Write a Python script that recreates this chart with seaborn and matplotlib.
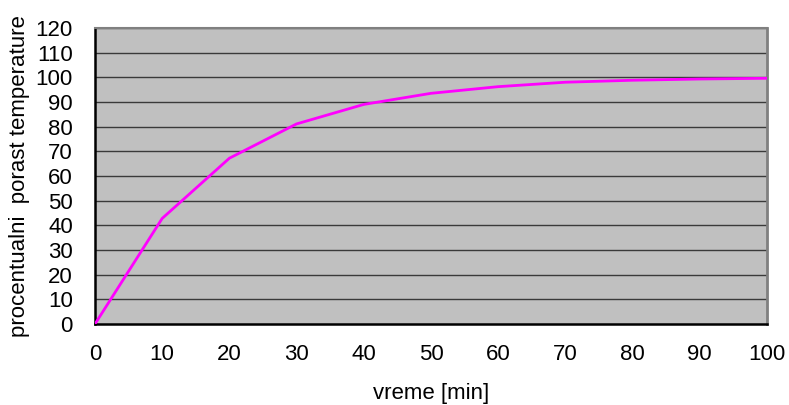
import matplotlib
matplotlib.use("Agg")
import matplotlib.pyplot as plt
import seaborn as sns
import pandas as pd

# time [min] and percent temperature rise
time_min = [0, 10, 20, 30, 40, 50, 60, 70, 80, 90, 100]
percent_rise = [0, 42.8, 67.2, 81.1, 89.0, 93.5, 96.2, 98.0, 98.8, 99.3, 99.6]
x_ticks = list(range(0, 101, 10))
y_ticks = list(range(0, 121, 10))

sns.set_style("white")
plt.rcParams["font.family"] = ["Liberation Sans", "DejaVu Sans"]
plt.rcParams["text.color"] = "black"
plt.rcParams["axes.labelcolor"] = "black"
plt.rcParams["xtick.labelcolor"] = "black"
plt.rcParams["ytick.labelcolor"] = "black"

df = pd.DataFrame({"vreme": time_min, "porast": percent_rise})

fig = plt.figure(figsize=(7.89, 4.05), dpi=100)
ax = fig.add_axes([0.1204, 0.2, 0.8516, 0.731])
ax.set_facecolor("#c0c0c0")

for yv in y_ticks[1:]:
    ax.axhline(yv, color="#3a3a3a", linewidth=1.0, zorder=1)

sns.lineplot(data=df, x="vreme", y="porast", color="#ff00ff", linewidth=2.0, ax=ax, zorder=3)

ax.set_xlim(0, 100)
ax.set_ylim(0, 120)
ax.set_xticks(x_ticks)
ax.set_yticks(y_ticks)
ax.tick_params(axis="both", labelsize=16, length=4.5, width=1, direction="out",
               labelcolor="black")
ax.tick_params(axis="x", color="#808080", pad=10)
ax.tick_params(axis="y", color="black", pad=11.5)

ax.spines["left"].set_color("black")
ax.spines["left"].set_linewidth(1.8)
ax.spines["bottom"].set_color("black")
ax.spines["bottom"].set_linewidth(1.8)
ax.spines["top"].set_color("#808080")
ax.spines["top"].set_linewidth(1.5)
ax.spines["right"].set_color("#808080")
ax.spines["right"].set_linewidth(2.0)

ax.set_xlabel("vreme [min]", fontsize=16, labelpad=12.5, color="black")
ax.set_ylabel("procentualni  porast temperature", fontsize=16, labelpad=4, color="black")

fig.savefig("out.png", dpi=100)
